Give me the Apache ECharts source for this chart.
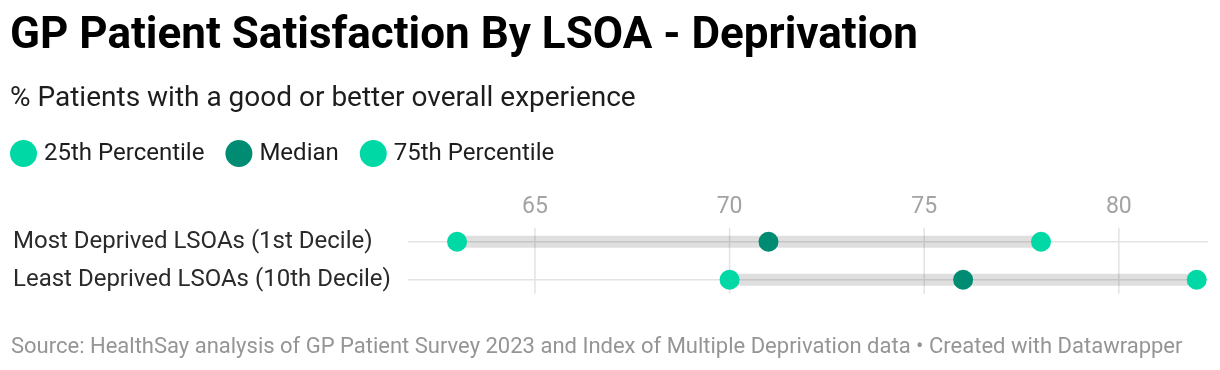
<!DOCTYPE html>
<html>
<head>
<meta charset="utf-8">
<script src="https://cdn.jsdelivr.net/npm/echarts@6/dist/echarts.min.js"></script>
<style>
  html, body { margin: 0; padding: 0; background: #fff; }
  #chart { width: 1220px; height: 370px; }
</style>
</head>
<body>
<div id="chart"></div>
<script>
// ---- data ----
const categories = ['Most Deprived LSOAs (1st Decile)', 'Least Deprived LSOAs (10th Decile)'];
const p25 = [63, 70];
const median = [71, 76];
const p75 = [78, 82];
const tickValues = [65, 70, 75, 80];
const seriesNames = ['25th Percentile', 'Median', '75th Percentile'];

const FONT = 'Roboto, "Noto Sans", sans-serif';
const C_LIGHT = '#00d9a6';
const C_DARK = '#008c73';

const chart = echarts.init(document.getElementById('chart'), null, { renderer: 'canvas' });

const option = {
  animation: false,
  backgroundColor: '#ffffff',
  textStyle: { fontFamily: FONT },
  title: [
    {
      text: 'GP Patient Satisfaction By LSOA - Deprivation',
      left: 5, top: 10,
      textStyle: { fontFamily: FONT, fontSize: 44, fontWeight: 'bold', color: '#000000' }
    },
    {
      text: '% Patients with a good or better overall experience',
      left: 5, top: 80,
      textStyle: { fontFamily: FONT, fontSize: 28, fontWeight: 'normal', color: '#1d1d1d' }
    },
    {
      text: 'Source: HealthSay analysis of GP Patient Survey 2023 and Index of Multiple Deprivation data • Created with Datawrapper',
      left: 6, top: 331,
      textStyle: { fontFamily: FONT, fontSize: 22, fontWeight: 'normal', color: '#959595' }
    }
  ],
  legend: {
    data: seriesNames,
    left: 5, top: 135,
    icon: 'circle',
    itemWidth: 27, itemHeight: 27,
    itemGap: 21,
    textStyle: { fontFamily: FONT, fontSize: 24, color: '#1d1d1d', padding: [0, 0, 0, 2] }
  },
  grid: { left: 408, right: 12, top: 222.7, height: 76 },
  xAxis: {
    type: 'value',
    position: 'top',
    min: 61.74,
    max: 82.29,
    axisLine: { show: false },
    axisTick: { show: false },
    splitLine: { show: false },
    axisLabel: {
      customValues: tickValues,
      fontFamily: FONT, fontSize: 23, color: '#a3a3a3', margin: 4
    }
  },
  yAxis: {
    type: 'category',
    data: categories,
    inverse: true,
    axisLine: { show: false },
    axisTick: { show: false },
    splitLine: { show: false },
    axisLabel: {
      align: 'left', margin: 395,
      fontFamily: FONT, fontSize: 24, color: '#2a2a2a'
    }
  },
  series: [
    {
      type: 'custom',
      silent: true,
      z: 1,
      data: tickValues.map(t => [t, 0]),
      encode: { x: 0, y: 1 },
      renderItem: function (params, api) {
        const top = api.coord([api.value(0), 0]);
        const bot = api.coord([api.value(0), categories.length - 1]);
        return {
          type: 'line',
          shape: { x1: top[0], y1: top[1] - 14, x2: bot[0], y2: bot[1] + 14 },
          style: { stroke: '#e3e3e3', lineWidth: 1.5 }
        };
      }
    },
    {
      type: 'custom',
      silent: true,
      z: 2,
      data: categories.map((c, i) => [p25[i], p75[i], i]),
      encode: { x: [0, 1], y: 2 },
      renderItem: function (params, api) {
        const cs = params.coordSys;
        const a = api.coord([api.value(0), api.value(2)]);
        const b = api.coord([api.value(1), api.value(2)]);
        const y = a[1];
        return {
          type: 'group',
          children: [
            {
              type: 'line',
              shape: { x1: cs.x, y1: y, x2: cs.x + cs.width, y2: y },
              style: { stroke: '#e3e3e3', lineWidth: 1.5 }
            },
            {
              type: 'rect',
              shape: { x: a[0], y: y - 6, width: b[0] - a[0], height: 12 },
              style: { fill: 'rgba(0,0,0,0.125)' }
            }
          ]
        };
      }
    },
    {
      name: seriesNames[0],
      type: 'scatter',
      z: 5,
      symbol: 'circle',
      symbolSize: 20,
      itemStyle: { color: C_LIGHT, opacity: 1 },
      data: p25.map((v, i) => [v, i])
    },
    {
      name: seriesNames[1],
      type: 'scatter',
      z: 5,
      symbol: 'circle',
      symbolSize: 20,
      itemStyle: { color: C_DARK, opacity: 1 },
      data: median.map((v, i) => [v, i])
    },
    {
      name: seriesNames[2],
      type: 'scatter',
      z: 5,
      symbol: 'circle',
      symbolSize: 20,
      itemStyle: { color: C_LIGHT, opacity: 1 },
      data: p75.map((v, i) => [v, i])
    }
  ]
};

chart.setOption(option);
</script>
</body>
</html>
